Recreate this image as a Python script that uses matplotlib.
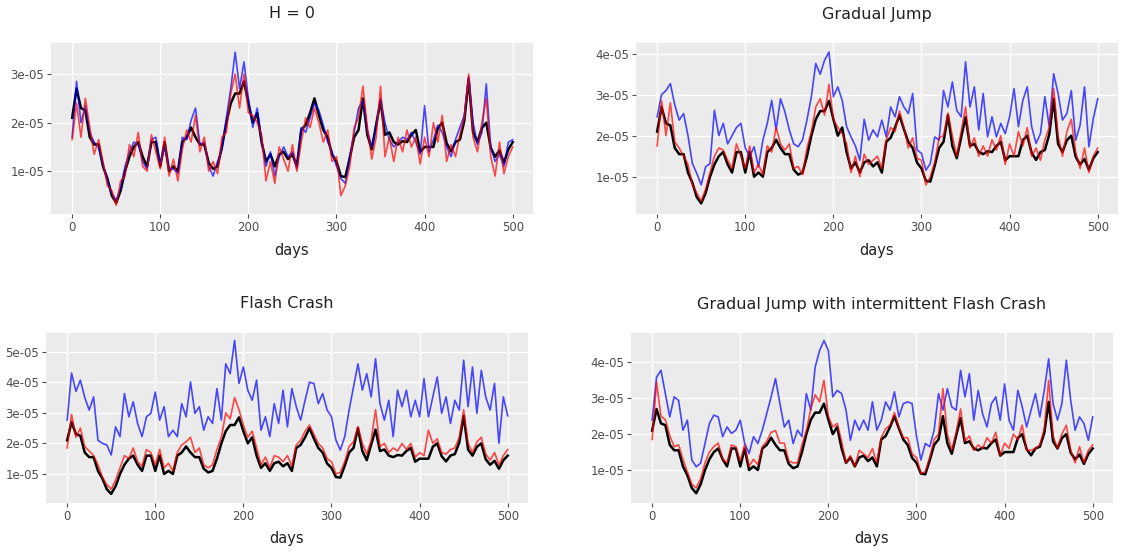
import numpy as np
import matplotlib
matplotlib.use("Agg")
import matplotlib.pyplot as plt
from matplotlib.ticker import FixedLocator, FuncFormatter

# values in units of 1e-6, one point every 5 days
days = list(range(0, 501, 5))

black = [21, 27, 23, 22.5, 17, 15.5, 15.5, 11, 8.5, 5, 3.5, 6, 10, 13, 15, 16, 13, 11, 16, 16,
         11, 16, 10, 11, 10, 16, 17, 19, 17, 15.5, 15.5, 11.7, 10.5, 11, 15, 20, 24, 26, 26, 28.5,
         24, 20, 22, 16, 12, 13.5, 11, 13.5, 14, 12.5, 13.5, 11, 18.5, 19.5, 22, 25, 21.6, 18.5, 17, 13.4,
         12, 9, 8.8, 12.7, 17, 18.5, 25, 17.5, 14.5, 19.6, 24.5, 17.5, 18, 16, 15.5, 16.2, 16, 17.5, 18.5, 14,
         15, 15, 15, 18.9, 20, 15.8, 14.1, 16, 16.5, 20.3, 29, 18, 16, 18.9, 20, 14.8, 13, 14.3, 11.7, 14.5,
         16]

red_h0 = [16.5, 24, 17, 25, 19, 13.5, 16.5, 12, 7, 6, 3, 8, 9, 15.5, 13, 18, 11, 10, 17.5, 14,
          10.5, 17, 9, 12.5, 8, 14.5, 18.5, 16, 21.5, 14, 17, 10, 12, 9.5, 17, 18, 26, 30, 23, 30,
          22, 21.5, 20, 17.5, 8, 12, 7.5, 15, 12.5, 10, 15.5, 10, 16, 21, 19, 23, 20, 16, 18.5, 12,
          13, 5, 7, 11, 19, 21, 27.5, 19, 12.5, 17, 27.5, 13, 17, 12, 17, 14, 18.5, 15, 17, 11.5,
          17, 13, 20, 16, 21.5, 12, 15.5, 13, 17.5, 21, 30, 17, 14, 20, 25, 13, 9, 16, 9.5, 13,
          15]

blue_h0 = [17, 28.5, 20, 23.5, 18, 16, 15, 11.5, 8, 5.5, 4, 6.5, 11, 14, 16, 15.5, 12, 10.5, 16.5, 17,
           11.5, 15, 10.5, 10.5, 9.5, 17, 16.5, 20.5, 23, 15.5, 16, 11, 9, 12, 14.5, 21, 27, 34.5, 27, 32.5,
           25, 19, 23, 16.5, 11, 14, 9, 13, 15, 13, 14, 10.5, 19, 18, 21, 24, 22.5, 19.5, 16, 14,
           11, 8.5, 7.5, 13, 18, 23, 24.5, 18.5, 15, 19, 25, 20, 16.5, 15, 16, 17, 16.5, 18, 16, 13.5,
           23.5, 14, 16.5, 19.5, 18, 15, 13, 16.5, 19, 21.5, 29.5, 20, 15.5, 18, 28, 15, 12, 13.5, 11, 16,
           16.5]

red_gj = [17.5, 28.5, 20, 28, 18.5, 17, 15, 13, 8, 6, 4, 7, 11, 15, 17, 16.5, 14, 12, 18, 15,
          12, 17.5, 11, 13, 10.5, 17.5, 16, 22, 18, 16.5, 18, 12, 12.5, 10.5, 17, 21, 27, 29, 25, 32.5,
          24, 22, 20.5, 18, 11, 15, 10, 15.5, 13, 14, 15, 12, 19, 22, 21, 26, 22, 17, 19.5, 14.5,
          14, 8, 10, 13.5, 19.5, 20, 25.5, 20, 15, 21, 27, 17, 19.5, 15, 17.5, 15, 19, 16.5, 20, 13,
          18, 15, 21, 17.5, 22, 15, 17, 14, 19, 22, 31.5, 20, 15, 21, 24, 16, 12, 17, 11, 15,
          17]

blue_gj = [24.6, 30, 31, 32.7, 27.5, 23.8, 25.4, 20, 13.2, 10.8, 8, 12.4, 13.2, 26.2, 20, 23, 18, 20, 22, 23,
           17, 14.9, 17.3, 12.4, 18.9, 23, 28.6, 21.4, 29, 25.8, 21.4, 18, 17.3, 19, 23.8, 29.5, 37.6, 35, 38.4, 40.4,
           29.5, 31.9, 28.6, 22.2, 19.7, 17.5, 14, 24, 18.9, 21.4, 19.7, 23.8, 19.7, 27, 24.6, 29.5, 27, 25.4, 30.3, 16.5,
           15.7, 11.6, 13.2, 19.7, 18.9, 31, 27, 33.1, 26.2, 24.6, 38, 27, 31.9, 21.4, 30.3, 19.7, 24.6, 19.7, 23, 20.5,
           24.6, 31.5, 22.2, 28.6, 31.9, 22.2, 18.1, 20.5, 29.5, 22.2, 35.1, 30.3, 23.8, 25.4, 31, 18.9, 22.6, 31.9, 17.3, 24.2,
           29]

red_fc = [18.5, 29.5, 22, 25, 19, 17.5, 16, 13, 9, 6.5, 5, 8, 12, 16, 15, 18.5, 14, 12.5, 18, 17,
          13, 18, 12, 13.5, 11, 17, 19.5, 20.5, 22, 17, 18.5, 13, 12, 13, 18, 22, 30, 28, 35, 31,
          26, 22, 24, 18.5, 13, 15.5, 12, 16, 15.5, 14, 16, 12.5, 19.5, 21, 24, 26, 23, 20, 18.5, 15,
          14, 10, 10.5, 14, 19, 20.5, 25.5, 20, 16.5, 21, 31, 19, 20, 17, 18.5, 17.5, 20, 18, 20, 15.5,
          17, 16, 24.3, 20, 21.5, 17, 16.5, 18, 18.5, 22, 31, 20, 17, 20.5, 22, 16.5, 14.5, 17, 13, 16,
          18]

blue_fc = [27.6, 43, 37, 40.7, 35, 30.9, 35.2, 21, 20, 19.5, 16.2, 25.4, 22.2, 36.3, 28.7, 33.6, 26.5, 22.2, 28.7, 29.8,
           36.8, 27.6, 32, 22.2, 24.3, 22.2, 33, 28.7, 40.1, 29.8, 32, 24.3, 28.7, 26.5, 37.9, 27.6, 46, 42.8, 53.7, 39.6,
           45, 37.4, 34.1, 40.7, 24.3, 28.7, 22.2, 33, 26.5, 37.4, 25.4, 37.9, 32, 27.6, 34.1, 40, 39.6, 33, 36.3, 30.9,
           28.7, 21.1, 17.8, 22.2, 30.9, 38.5, 46, 37.4, 42.8, 35.2, 47.7, 33, 27.6, 34.1, 22.2, 37.4, 32, 37.4, 28.7, 34.1,
           28.7, 41.2, 28.7, 35.2, 41.7, 29.8, 35.2, 26.5, 34.1, 30.9, 47.2, 32, 45, 29.8, 43.9, 35.2, 30.9, 39.6, 20, 35.2,
           29]

red_gjfc = [18.5, 34.5, 25, 24, 19.5, 16.5, 17, 13, 9.5, 6, 5, 7.5, 12, 15, 16.5, 17.5, 13, 12, 17, 16.5,
            12.5, 17, 11, 13, 11.5, 16.5, 18, 20.5, 21, 17.5, 17.5, 12.5, 12, 12, 17, 21, 27, 31, 29, 35,
            25, 22, 23, 18, 12, 14, 11, 15.5, 14.5, 13.5, 16, 12, 19, 21.5, 22.5, 26, 22, 19, 19, 14.5,
            13.5, 9, 9.5, 13.5, 18.5, 20, 32.7, 20, 15.5, 20.5, 27, 18, 19.5, 15.5, 17, 16, 19, 17.5, 20.5, 14,
            17.5, 16, 20, 18.5, 22.5, 15.5, 15.5, 16, 17, 21.5, 35, 19.5, 16, 20, 22.5, 15.5, 12, 16.5, 12, 15.5,
            17]

blue_gjfc = [23.9, 35.9, 37.8, 31.3, 24.8, 30.4, 29.4, 21.1, 23.9, 12.8, 10.9, 11.9, 17.4, 23, 25.3, 24.8, 19.3, 22, 20.2, 21.1,
             23.9, 17.4, 14.6, 19.3, 17.4, 21.1, 25.7, 30.4, 35.5, 28.5, 22, 23.9, 17.4, 21.1, 19.3, 31.3, 26.7, 38.7, 43.3, 46.1,
             43.3, 30.4, 32.2, 31.3, 26.7, 18.3, 23.9, 21.1, 23.9, 21.1, 29, 21.1, 23.9, 29, 26.7, 31.8, 24.8, 28.5, 29, 28.5,
             19.4, 12.8, 17.4, 16.5, 21.1, 31.3, 26.7, 32.7, 27.6, 26.7, 37.8, 30.4, 36.9, 23.9, 32.2, 25.7, 22, 28.5, 30.4, 23.9,
             34, 23.9, 21.1, 32.2, 27.6, 22, 26.7, 31.3, 24.8, 32.2, 41, 28.5, 23.9, 28.5, 40.6, 29.4, 21.1, 24.8, 23, 18.3,
             24.8]

titles = ["H = 0", "Gradual Jump", "Flash Crash", "Gradual Jump with intermittent Flash Crash"]
reds = [red_h0, red_gj, red_fc, red_gjfc]
blues = [blue_h0, blue_gj, blue_fc, blue_gjfc]
yticks = [[1e-5, 2e-5, 3e-5], [1e-5, 2e-5, 3e-5, 4e-5],
          [1e-5, 2e-5, 3e-5, 4e-5, 5e-5], [1e-5, 2e-5, 3e-5, 4e-5]]
ylims = [(1.2e-6, 36.4e-6), (0.9e-6, 42.6e-6), (0.5e-6, 56.1e-6), (0.8e-6, 48.2e-6)]

W, H = 1138, 559
# axes boxes in pixels: left, top, right, bottom
boxes = [(51, 43, 533, 214), (636, 43, 1118, 214),
         (46, 333, 528, 503), (631, 333, 1113, 503)]

fig = plt.figure(figsize=(W / 100, H / 100), dpi=100)
x = np.array(days)

for i in range(4):
    l, t, r, b = boxes[i]
    ax = fig.add_axes([l / W, 1 - b / H, (r - l) / W, (b - t) / H])
    ax.set_facecolor('#ebebeb')
    ax.plot(x, np.array(black) * 1e-6, color='black', lw=1.8, zorder=2)
    ax.plot(x, np.array(blues[i]) * 1e-6, color='blue', lw=1.2, alpha=0.7, zorder=3)
    ax.plot(x, np.array(reds[i]) * 1e-6, color='red', lw=1.2, alpha=0.7, zorder=4)
    ax.set_xlim(-24, 523)
    ax.set_ylim(*ylims[i])
    ax.xaxis.set_major_locator(FixedLocator([0, 100, 200, 300, 400, 500]))
    ax.yaxis.set_major_locator(FixedLocator(yticks[i]))
    ax.yaxis.set_major_formatter(FuncFormatter(lambda v, p: f"{v:.0e}"))
    ax.grid(True, color='white', lw=1.0, zorder=0)
    ax.set_axisbelow(True)
    for s in ax.spines.values():
        s.set_visible(False)
    ax.tick_params(axis='both', colors='#4d4d4d', labelsize=8.5, length=3, width=0.8, pad=2)
    cx = (l + r) / 2 / W
    fig.text(cx, 1 - (t - 29) / H, titles[i], ha='center', va='center', fontsize=11.5, color='#222222')
    fig.text(cx, 1 - (b + 36) / H, "days", ha='center', va='center', fontsize=10.5, color='#222222')

fig.savefig("out.png", dpi=100)
